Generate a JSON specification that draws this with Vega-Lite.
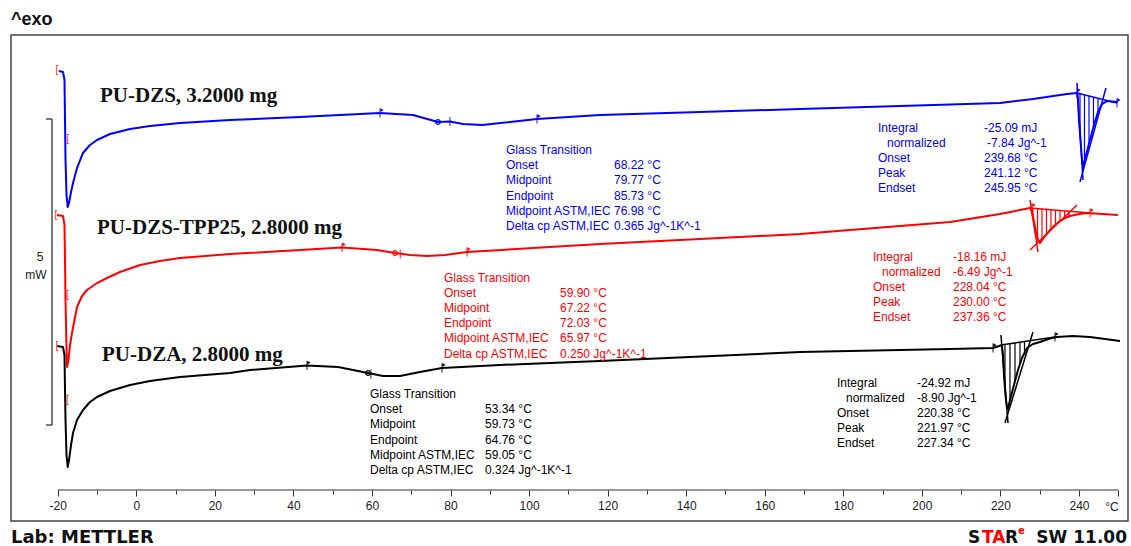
{
"$schema": "https://vega.github.io/schema/vega-lite/v6.json",
"width": 1117, "height": 486,
"autosize": {"type": "none"},
"padding": {"left": 11, "top": 35, "right": 3, "bottom": 25},
"background": "white",
"config": {"view": {"stroke": "#444", "strokeWidth": 1.5}},
"datasets": {
"curves": [
{"s":"PU-DZS","i":0,"T":-19.67,"mW":6.846},{"s":"PU-DZS","i":1,"T":-18.65,"mW":6.830},{"s":"PU-DZS","i":2,"T":-18.27,"mW":6.699},{"s":"PU-DZS","i":3,"T":-18.14,"mW":6.046},{"s":"PU-DZS","i":4,"T":-18.01,"mW":5.392},{"s":"PU-DZS","i":5,"T":-17.76,"mW":4.820},{"s":"PU-DZS","i":6,"T":-17.45,"mW":4.624},{"s":"PU-DZS","i":7,"T":-17.12,"mW":4.690},{"s":"PU-DZS","i":8,"T":-16.61,"mW":4.869},{"s":"PU-DZS","i":9,"T":-16.10,"mW":5.016},{"s":"PU-DZS","i":10,"T":-15.09,"mW":5.261},{"s":"PU-DZS","i":11,"T":-13.56,"mW":5.507},{"s":"PU-DZS","i":12,"T":-11.78,"mW":5.637},{"s":"PU-DZS","i":13,"T":-9.99,"mW":5.719},{"s":"PU-DZS","i":14,"T":-6.69,"mW":5.817},{"s":"PU-DZS","i":15,"T":-1.59,"mW":5.899},{"s":"PU-DZS","i":16,"T":3.50,"mW":5.948},{"s":"PU-DZS","i":17,"T":11.13,"mW":5.997},{"s":"PU-DZS","i":18,"T":23.86,"mW":6.046},{"s":"PU-DZS","i":19,"T":41.68,"mW":6.095},{"s":"PU-DZS","i":20,"T":54.41,"mW":6.136},{"s":"PU-DZS","i":21,"T":62.05,"mW":6.160},{"s":"PU-DZS","i":22,"T":70.45,"mW":6.128},{"s":"PU-DZS","i":23,"T":76.82,"mW":6.013},{"s":"PU-DZS","i":24,"T":79.87,"mW":6.021},{"s":"PU-DZS","i":25,"T":83.18,"mW":5.981},{"s":"PU-DZS","i":26,"T":88.02,"mW":5.964},{"s":"PU-DZS","i":27,"T":95.15,"mW":6.013},{"s":"PU-DZS","i":28,"T":102.02,"mW":6.062},{"s":"PU-DZS","i":29,"T":118.06,"mW":6.128},{"s":"PU-DZS","i":30,"T":143.52,"mW":6.177},{"s":"PU-DZS","i":31,"T":168.98,"mW":6.226},{"s":"PU-DZS","i":32,"T":194.43,"mW":6.275},{"s":"PU-DZS","i":33,"T":219.89,"mW":6.324},{"s":"PU-DZS","i":34,"T":228.29,"mW":6.389},{"s":"PU-DZS","i":35,"T":236.95,"mW":6.471},{"s":"PU-DZS","i":36,"T":239.49,"mW":6.487},{"s":"PU-DZS","i":37,"T":239.75,"mW":6.373},{"s":"PU-DZS","i":38,"T":240.00,"mW":6.046},{"s":"PU-DZS","i":39,"T":240.39,"mW":5.719},{"s":"PU-DZS","i":40,"T":240.77,"mW":5.392},{"s":"PU-DZS","i":41,"T":241.02,"mW":5.278},{"s":"PU-DZS","i":42,"T":241.79,"mW":5.474},{"s":"PU-DZS","i":43,"T":242.80,"mW":5.719},{"s":"PU-DZS","i":44,"T":243.82,"mW":5.964},{"s":"PU-DZS","i":45,"T":244.84,"mW":6.177},{"s":"PU-DZS","i":46,"T":245.86,"mW":6.307},{"s":"PU-DZS","i":47,"T":247.13,"mW":6.356},{"s":"PU-DZS","i":48,"T":248.40,"mW":6.348},{"s":"PU-DZS","i":49,"T":249.93,"mW":6.340},
{"s":"PU-DZS-TPP25","i":0,"T":-20.18,"mW":4.494},{"s":"PU-DZS-TPP25","i":1,"T":-18.65,"mW":4.477},{"s":"PU-DZS-TPP25","i":2,"T":-18.27,"mW":4.330},{"s":"PU-DZS-TPP25","i":3,"T":-18.14,"mW":3.758},{"s":"PU-DZS-TPP25","i":4,"T":-18.01,"mW":3.105},{"s":"PU-DZS-TPP25","i":5,"T":-17.81,"mW":2.451},{"s":"PU-DZS-TPP25","i":6,"T":-17.63,"mW":2.010},{"s":"PU-DZS-TPP25","i":7,"T":-17.25,"mW":2.124},{"s":"PU-DZS-TPP25","i":8,"T":-16.87,"mW":2.369},{"s":"PU-DZS-TPP25","i":9,"T":-16.36,"mW":2.565},{"s":"PU-DZS-TPP25","i":10,"T":-15.09,"mW":2.990},{"s":"PU-DZS-TPP25","i":11,"T":-13.81,"mW":3.170},{"s":"PU-DZS-TPP25","i":12,"T":-12.54,"mW":3.268},{"s":"PU-DZS-TPP25","i":13,"T":-9.99,"mW":3.382},{"s":"PU-DZS-TPP25","i":14,"T":-7.45,"mW":3.464},{"s":"PU-DZS-TPP25","i":15,"T":-4.14,"mW":3.562},{"s":"PU-DZS-TPP25","i":16,"T":0.95,"mW":3.677},{"s":"PU-DZS-TPP25","i":17,"T":6.04,"mW":3.742},{"s":"PU-DZS-TPP25","i":18,"T":11.13,"mW":3.791},{"s":"PU-DZS-TPP25","i":19,"T":23.86,"mW":3.856},{"s":"PU-DZS-TPP25","i":20,"T":41.68,"mW":3.922},{"s":"PU-DZS-TPP25","i":21,"T":52.38,"mW":3.963},{"s":"PU-DZS-TPP25","i":22,"T":61.29,"mW":3.922},{"s":"PU-DZS-TPP25","i":23,"T":65.87,"mW":3.873},{"s":"PU-DZS-TPP25","i":24,"T":69.69,"mW":3.840},{"s":"PU-DZS-TPP25","i":25,"T":74.02,"mW":3.824},{"s":"PU-DZS-TPP25","i":26,"T":78.60,"mW":3.840},{"s":"PU-DZS-TPP25","i":27,"T":84.20,"mW":3.889},{"s":"PU-DZS-TPP25","i":28,"T":105.33,"mW":3.971},{"s":"PU-DZS-TPP25","i":29,"T":118.06,"mW":4.020},{"s":"PU-DZS-TPP25","i":30,"T":143.52,"mW":4.101},{"s":"PU-DZS-TPP25","i":31,"T":168.98,"mW":4.183},{"s":"PU-DZS-TPP25","i":32,"T":194.43,"mW":4.314},{"s":"PU-DZS-TPP25","i":33,"T":207.16,"mW":4.379},{"s":"PU-DZS-TPP25","i":34,"T":219.89,"mW":4.510},{"s":"PU-DZS-TPP25","i":35,"T":227.53,"mW":4.608},{"s":"PU-DZS-TPP25","i":36,"T":228.04,"mW":4.543},{"s":"PU-DZS-TPP25","i":37,"T":228.55,"mW":4.379},{"s":"PU-DZS-TPP25","i":38,"T":229.06,"mW":4.216},{"s":"PU-DZS-TPP25","i":39,"T":229.57,"mW":4.085},{"s":"PU-DZS-TPP25","i":40,"T":230.07,"mW":4.036},{"s":"PU-DZS-TPP25","i":41,"T":231.35,"mW":4.150},{"s":"PU-DZS-TPP25","i":42,"T":232.62,"mW":4.248},{"s":"PU-DZS-TPP25","i":43,"T":233.89,"mW":4.330},{"s":"PU-DZS-TPP25","i":44,"T":235.17,"mW":4.395},{"s":"PU-DZS-TPP25","i":45,"T":236.44,"mW":4.444},{"s":"PU-DZS-TPP25","i":46,"T":237.71,"mW":4.477},{"s":"PU-DZS-TPP25","i":47,"T":239.49,"mW":4.502},{"s":"PU-DZS-TPP25","i":48,"T":241.53,"mW":4.526},{"s":"PU-DZS-TPP25","i":49,"T":244.08,"mW":4.518},{"s":"PU-DZS-TPP25","i":50,"T":249.93,"mW":4.494},
{"s":"PU-DZA","i":0,"T":-20.18,"mW":2.353},{"s":"PU-DZA","i":1,"T":-18.65,"mW":2.337},{"s":"PU-DZA","i":2,"T":-18.27,"mW":2.206},{"s":"PU-DZA","i":3,"T":-18.14,"mW":1.634},{"s":"PU-DZA","i":4,"T":-18.01,"mW":1.144},{"s":"PU-DZA","i":5,"T":-17.76,"mW":0.572},{"s":"PU-DZA","i":6,"T":-17.45,"mW":0.376},{"s":"PU-DZA","i":7,"T":-17.12,"mW":0.490},{"s":"PU-DZA","i":8,"T":-16.61,"mW":0.735},{"s":"PU-DZA","i":9,"T":-16.10,"mW":0.931},{"s":"PU-DZA","i":10,"T":-15.09,"mW":1.144},{"s":"PU-DZA","i":11,"T":-13.56,"mW":1.307},{"s":"PU-DZA","i":12,"T":-11.78,"mW":1.438},{"s":"PU-DZA","i":13,"T":-9.99,"mW":1.520},{"s":"PU-DZA","i":14,"T":-6.69,"mW":1.618},{"s":"PU-DZA","i":15,"T":-1.59,"mW":1.716},{"s":"PU-DZA","i":16,"T":3.50,"mW":1.781},{"s":"PU-DZA","i":17,"T":11.13,"mW":1.846},{"s":"PU-DZA","i":18,"T":23.86,"mW":1.912},{"s":"PU-DZA","i":19,"T":28.96,"mW":1.961},{"s":"PU-DZA","i":20,"T":43.47,"mW":2.034},{"s":"PU-DZA","i":21,"T":51.36,"mW":2.010},{"s":"PU-DZA","i":22,"T":59.00,"mW":1.912},{"s":"PU-DZA","i":23,"T":62.81,"mW":1.863},{"s":"PU-DZA","i":24,"T":67.14,"mW":1.863},{"s":"PU-DZA","i":25,"T":72.23,"mW":1.928},{"s":"PU-DZA","i":26,"T":77.83,"mW":1.994},{"s":"PU-DZA","i":27,"T":92.60,"mW":2.043},{"s":"PU-DZA","i":28,"T":105.33,"mW":2.075},{"s":"PU-DZA","i":29,"T":118.06,"mW":2.108},{"s":"PU-DZA","i":30,"T":140.97,"mW":2.173},{"s":"PU-DZA","i":31,"T":168.98,"mW":2.255},{"s":"PU-DZA","i":32,"T":194.43,"mW":2.288},{"s":"PU-DZA","i":33,"T":207.16,"mW":2.304},{"s":"PU-DZA","i":34,"T":218.11,"mW":2.320},{"s":"PU-DZA","i":35,"T":220.40,"mW":2.369},{"s":"PU-DZA","i":36,"T":220.65,"mW":2.206},{"s":"PU-DZA","i":37,"T":220.91,"mW":1.879},{"s":"PU-DZA","i":38,"T":221.29,"mW":1.552},{"s":"PU-DZA","i":39,"T":221.67,"mW":1.340},{"s":"PU-DZA","i":40,"T":221.93,"mW":1.324},{"s":"PU-DZA","i":41,"T":222.43,"mW":1.471},{"s":"PU-DZA","i":42,"T":223.45,"mW":1.716},{"s":"PU-DZA","i":43,"T":224.47,"mW":1.961},{"s":"PU-DZA","i":44,"T":225.49,"mW":2.157},{"s":"PU-DZA","i":45,"T":226.76,"mW":2.320},{"s":"PU-DZA","i":46,"T":228.29,"mW":2.386},{"s":"PU-DZA","i":47,"T":230.07,"mW":2.418},{"s":"PU-DZA","i":48,"T":232.62,"mW":2.476},{"s":"PU-DZA","i":49,"T":234.40,"mW":2.500},{"s":"PU-DZA","i":50,"T":238.47,"mW":2.516},{"s":"PU-DZA","i":51,"T":242.80,"mW":2.500},{"s":"PU-DZA","i":52,"T":246.62,"mW":2.467},{"s":"PU-DZA","i":53,"T":250.44,"mW":2.435}
],
"segs": [
{"id":"b1","s":"PU-DZS","T":239.49,"mW":6.487},{"id":"b1","s":"PU-DZS","T":249.67,"mW":6.324},
{"id":"b2","s":"PU-DZS","T":239.49,"mW":6.650},{"id":"b2","s":"PU-DZS","T":241.02,"mW":5.065},
{"id":"b3","s":"PU-DZS","T":240.26,"mW":5.033},{"id":"b3","s":"PU-DZS","T":246.87,"mW":6.569},
{"id":"r1","s":"PU-DZS-TPP25","T":227.53,"mW":4.608},{"id":"r1","s":"PU-DZS-TPP25","T":242.80,"mW":4.526},
{"id":"r2","s":"PU-DZS-TPP25","T":227.53,"mW":4.739},{"id":"r2","s":"PU-DZS-TPP25","T":229.57,"mW":3.889},
{"id":"r3","s":"PU-DZS-TPP25","T":227.53,"mW":3.922},{"id":"r3","s":"PU-DZS-TPP25","T":239.49,"mW":4.657},
{"id":"k1","s":"PU-DZA","T":220.14,"mW":2.369},{"id":"k1","s":"PU-DZA","T":233.89,"mW":2.500},
{"id":"k2","s":"PU-DZA","T":220.14,"mW":2.533},{"id":"k2","s":"PU-DZA","T":221.93,"mW":1.095},
{"id":"k3","s":"PU-DZA","T":221.16,"mW":1.095},{"id":"k3","s":"PU-DZA","T":228.29,"mW":2.582}
],
"hatch": [
{"s":"PU-DZS","T":240.26,"top":6.475,"bot":5.833},{"s":"PU-DZS","T":241.40,"top":6.456,"bot":5.376},{"s":"PU-DZS","T":242.55,"top":6.438,"bot":5.654},{"s":"PU-DZS","T":243.69,"top":6.420,"bot":5.931},{"s":"PU-DZS","T":244.84,"top":6.401,"bot":6.177},
{"s":"PU-DZS-TPP25","T":228.29,"top":4.604,"bot":4.461},{"s":"PU-DZS-TPP25","T":229.44,"top":4.598,"bot":4.118},{"s":"PU-DZS-TPP25","T":230.58,"top":4.592,"bot":4.082},{"s":"PU-DZS-TPP25","T":231.73,"top":4.585,"bot":4.180},{"s":"PU-DZS-TPP25","T":232.87,"top":4.579,"bot":4.265},{"s":"PU-DZS-TPP25","T":234.02,"top":4.574,"bot":4.337},{"s":"PU-DZS-TPP25","T":235.17,"top":4.567,"bot":4.395},{"s":"PU-DZS-TPP25","T":236.31,"top":4.561,"bot":4.440},{"s":"PU-DZS-TPP25","T":237.46,"top":4.555,"bot":4.471},
{"s":"PU-DZA","T":221.16,"top":2.379,"bot":1.667},{"s":"PU-DZA","T":222.43,"top":2.391,"bot":1.471},{"s":"PU-DZA","T":223.71,"top":2.404,"bot":1.781},{"s":"PU-DZA","T":224.98,"top":2.415,"bot":2.059},{"s":"PU-DZA","T":226.13,"top":2.427,"bot":2.239}
],
"flags": [
{"s":"PU-DZS","T":62.05,"mW":6.160},{"s":"PU-DZS","T":102.02,"mW":6.062},{"s":"PU-DZS","T":239.49,"mW":6.487},{"s":"PU-DZS","T":249.67,"mW":6.324},
{"s":"PU-DZS-TPP25","T":52.38,"mW":3.963},{"s":"PU-DZS-TPP25","T":84.20,"mW":3.889},{"s":"PU-DZS-TPP25","T":228.04,"mW":4.608},{"s":"PU-DZS-TPP25","T":242.80,"mW":4.526},
{"s":"PU-DZA","T":43.47,"mW":2.034},{"s":"PU-DZA","T":77.83,"mW":1.994},{"s":"PU-DZA","T":218.11,"mW":2.320},{"s":"PU-DZA","T":233.89,"mW":2.500}
],
"crosses": [
{"s":"PU-DZS","T":79.87,"mW":6.021},{"s":"PU-DZS-TPP25","T":67.22,"mW":3.856},{"s":"PU-DZA","T":59.73,"mW":1.895}
],
"circles": [
{"s":"PU-DZS","T":76.82,"mW":6.013},{"s":"PU-DZS-TPP25","T":65.87,"mW":3.873},{"s":"PU-DZA","T":59.00,"mW":1.912}
],
"brackets": [
{"T":-20.18,"mW":6.863},{"T":-20.43,"mW":4.494},{"T":-20.18,"mW":2.353},
{"T":-17.45,"mW":5.735},{"T":-17.51,"mW":3.186},{"T":-17.51,"mW":1.471}
],
"labels": [
{"t":"PU-DZS, 3.2000 mg","T":-9.23,"mW":6.438},
{"t":"PU-DZS-TPP25, 2.8000 mg","T":-9.99,"mW":4.281},
{"t":"PU-DZA, 2.8000 mg","T":-8.72,"mW":2.206}
],
"notes": [
{"s":"PU-DZS","T":94.13,"mW":5.556,"t":"Glass Transition"},
{"s":"PU-DZS","T":94.13,"mW":5.307,"t":"Onset"},{"s":"PU-DZS","T":121.62,"mW":5.307,"t":"68.22 °C"},
{"s":"PU-DZS","T":94.13,"mW":5.059,"t":"Midpoint"},{"s":"PU-DZS","T":121.62,"mW":5.059,"t":"79.77 °C"},
{"s":"PU-DZS","T":94.13,"mW":4.811,"t":"Endpoint"},{"s":"PU-DZS","T":121.62,"mW":4.811,"t":"85.73 °C"},
{"s":"PU-DZS","T":94.13,"mW":4.562,"t":"Midpoint ASTM,IEC"},{"s":"PU-DZS","T":121.62,"mW":4.562,"t":"76.98 °C"},
{"s":"PU-DZS","T":94.13,"mW":4.314,"t":"Delta cp ASTM,IEC"},{"s":"PU-DZS","T":121.62,"mW":4.314,"t":"0.365 Jg^-1K^-1"},
{"s":"PU-DZS","T":188.83,"mW":5.915,"t":"Integral"},{"s":"PU-DZS","T":215.81,"mW":5.915,"t":"-25.09 mJ"},
{"s":"PU-DZS","T":191.12,"mW":5.670,"t":"normalized"},{"s":"PU-DZS","T":216.6,"mW":5.670,"t":"-7.84 Jg^-1"},
{"s":"PU-DZS","T":188.83,"mW":5.425,"t":"Onset"},{"s":"PU-DZS","T":215.81,"mW":5.425,"t":"239.68 °C"},
{"s":"PU-DZS","T":188.83,"mW":5.180,"t":"Peak"},{"s":"PU-DZS","T":215.81,"mW":5.180,"t":"241.12 °C"},
{"s":"PU-DZS","T":188.83,"mW":4.935,"t":"Endset"},{"s":"PU-DZS","T":215.81,"mW":4.935,"t":"245.95 °C"},
{"s":"PU-DZS-TPP25","T":78.34,"mW":3.472,"t":"Glass Transition"},
{"s":"PU-DZS-TPP25","T":78.34,"mW":3.222,"t":"Onset"},{"s":"PU-DZS-TPP25","T":107.87,"mW":3.222,"t":"59.90 °C"},
{"s":"PU-DZS-TPP25","T":78.34,"mW":2.974,"t":"Midpoint"},{"s":"PU-DZS-TPP25","T":107.87,"mW":2.974,"t":"67.22 °C"},
{"s":"PU-DZS-TPP25","T":78.34,"mW":2.726,"t":"Endpoint"},{"s":"PU-DZS-TPP25","T":107.87,"mW":2.726,"t":"72.03 °C"},
{"s":"PU-DZS-TPP25","T":78.34,"mW":2.477,"t":"Midpoint ASTM,IEC"},{"s":"PU-DZS-TPP25","T":107.87,"mW":2.477,"t":"65.97 °C"},
{"s":"PU-DZS-TPP25","T":78.34,"mW":2.229,"t":"Delta cp ASTM,IEC"},{"s":"PU-DZS-TPP25","T":107.87,"mW":2.229,"t":"0.250 Jg^-1K^-1"},
{"s":"PU-DZS-TPP25","T":187.56,"mW":3.807,"t":"Integral"},{"s":"PU-DZS-TPP25","T":207.92,"mW":3.807,"t":"-18.16 mJ"},
{"s":"PU-DZS-TPP25","T":189.85,"mW":3.562,"t":"normalized"},{"s":"PU-DZS-TPP25","T":207.92,"mW":3.562,"t":"-6.49 Jg^-1"},
{"s":"PU-DZS-TPP25","T":187.56,"mW":3.317,"t":"Onset"},{"s":"PU-DZS-TPP25","T":207.92,"mW":3.317,"t":"228.04 °C"},
{"s":"PU-DZS-TPP25","T":187.56,"mW":3.072,"t":"Peak"},{"s":"PU-DZS-TPP25","T":207.92,"mW":3.072,"t":"230.00 °C"},
{"s":"PU-DZS-TPP25","T":187.56,"mW":2.827,"t":"Endset"},{"s":"PU-DZS-TPP25","T":207.92,"mW":2.827,"t":"237.36 °C"},
{"s":"PU-DZA","T":59.50,"mW":1.569,"t":"Glass Transition"},
{"s":"PU-DZA","T":59.50,"mW":1.320,"t":"Onset"},{"s":"PU-DZA","T":88.78,"mW":1.320,"t":"53.34 °C"},
{"s":"PU-DZA","T":59.50,"mW":1.072,"t":"Midpoint"},{"s":"PU-DZA","T":88.78,"mW":1.072,"t":"59.73 °C"},
{"s":"PU-DZA","T":59.50,"mW":0.824,"t":"Endpoint"},{"s":"PU-DZA","T":88.78,"mW":0.824,"t":"64.76 °C"},
{"s":"PU-DZA","T":59.50,"mW":0.575,"t":"Midpoint ASTM,IEC"},{"s":"PU-DZA","T":88.78,"mW":0.575,"t":"59.05 °C"},
{"s":"PU-DZA","T":59.50,"mW":0.327,"t":"Delta cp ASTM,IEC"},{"s":"PU-DZA","T":88.78,"mW":0.327,"t":"0.324 Jg^-1K^-1"},
{"s":"PU-DZA","T":178.39,"mW":1.748,"t":"Integral"},{"s":"PU-DZA","T":198.76,"mW":1.748,"t":"-24.92 mJ"},
{"s":"PU-DZA","T":180.68,"mW":1.503,"t":"normalized"},{"s":"PU-DZA","T":198.76,"mW":1.503,"t":"-8.90 Jg^-1"},
{"s":"PU-DZA","T":178.39,"mW":1.258,"t":"Onset"},{"s":"PU-DZA","T":198.76,"mW":1.258,"t":"220.38 °C"},
{"s":"PU-DZA","T":178.39,"mW":1.013,"t":"Peak"},{"s":"PU-DZA","T":198.76,"mW":1.013,"t":"221.97 °C"},
{"s":"PU-DZA","T":178.39,"mW":0.768,"t":"Endset"},{"s":"PU-DZA","T":198.76,"mW":0.768,"t":"227.34 °C"}
],
"axisline": [{"a":-20,"b":250,"y":0}],
"scalebar": [
{"x":-21.45,"x2":-21.45,"y":1.062,"y2":6.062},
{"x":-22.98,"x2":-21.45,"y":6.062,"y2":6.062},
{"x":-22.98,"x2":-21.45,"y":1.062,"y2":1.062}
],
"smalltext": [
{"t":"5","T":-24.51,"mW":3.807},
{"t":"mW","T":-25.52,"mW":3.513},
{"t":"°C","T":248.40,"mW":-0.278}
],
"blacktext": [
{"t":"S","T":211.74,"mW":-0.784},
{"t":"R","T":221.16,"mW":-0.784}
]
},
"layer": [
{"data":{"name":"curves"},
 "mark":{"type":"line","strokeWidth":2,"strokeJoin":"round"},
 "encoding":{
  "x":{"field":"T","type":"quantitative","scale":{"domain":[-31.89,252.48],"nice":false,"zero":false},
   "axis":{"values":[-20,-10,0,10,20,30,40,50,60,70,80,90,100,110,120,130,140,150,160,170,180,190,200,210,220,230,240,250],
    "labelExpr":"(datum.value % 20 === 0 && datum.value <= 240) ? ('' + datum.value) : ''",
    "tickSize":{"condition":{"test":"datum.value % 20 === 0 || datum.value === 250","value":6},"value":4},
    "domain":false,"grid":false,"offset":-31,"title":null,"labelFont":"Liberation Sans","labelFontSize":12,"labelColor":"#222",
    "tickColor":"#333","tickWidth":1,"labelPadding":4,"labelFlush":false,"labelOverlap":false}},
  "y":{"field":"mW","type":"quantitative","scale":{"domain":[-0.5065,7.435],"nice":false,"zero":false},"axis":null},
  "color":{"field":"s","type":"nominal","scale":{"domain":["PU-DZS","PU-DZS-TPP25","PU-DZA"],"range":["#0000ff","#ff0000","#000000"]},"legend":null},
  "order":{"field":"i"}}},
{"data":{"name":"segs"},
 "mark":{"type":"line","strokeWidth":1.5},
 "encoding":{"x":{"field":"T","type":"quantitative"},"y":{"field":"mW","type":"quantitative","axis":null},
  "color":{"field":"s","type":"nominal","legend":null},"detail":{"field":"id"}}},
{"data":{"name":"hatch"},
 "mark":{"type":"rule","strokeWidth":1.2},
 "encoding":{"x":{"field":"T","type":"quantitative"},"y":{"field":"top","type":"quantitative","axis":null},"y2":{"field":"bot"},
  "color":{"field":"s","type":"nominal","legend":null}}},
{"data":{"name":"flags"},
 "mark":{"type":"tick","orient":"vertical","size":9,"thickness":1.3},
 "encoding":{"x":{"field":"T","type":"quantitative"},"y":{"field":"mW","type":"quantitative","axis":null},
  "color":{"field":"s","type":"nominal","legend":null}}},
{"data":{"name":"flags"},
 "mark":{"type":"point","shape":"triangle-right","filled":true,"size":14,"yOffset":-3,"xOffset":2,"opacity":1},
 "encoding":{"x":{"field":"T","type":"quantitative"},"y":{"field":"mW","type":"quantitative","axis":null},
  "color":{"field":"s","type":"nominal","legend":null}}},
{"data":{"name":"crosses"},
 "mark":{"type":"tick","orient":"vertical","size":9,"thickness":1.2},
 "encoding":{"x":{"field":"T","type":"quantitative"},"y":{"field":"mW","type":"quantitative","axis":null},
  "color":{"field":"s","type":"nominal","legend":null}}},
{"data":{"name":"circles"},
 "mark":{"type":"point","shape":"circle","filled":false,"size":22,"strokeWidth":1.2,"opacity":1},
 "encoding":{"x":{"field":"T","type":"quantitative"},"y":{"field":"mW","type":"quantitative","axis":null},
  "color":{"field":"s","type":"nominal","legend":null}}},
{"data":{"name":"brackets"},
 "mark":{"type":"text","text":"[","color":"#ff2020","fontSize":10,"font":"Liberation Sans","align":"center","baseline":"middle"},
 "encoding":{"x":{"field":"T","type":"quantitative"},"y":{"field":"mW","type":"quantitative","axis":null}}},
{"data":{"name":"labels"},
 "mark":{"type":"text","font":"Liberation Serif","fontWeight":"bold","fontSize":21,"color":"#111","align":"left","baseline":"middle"},
 "encoding":{"x":{"field":"T","type":"quantitative"},"y":{"field":"mW","type":"quantitative","axis":null},"text":{"field":"t"}}},
{"data":{"name":"notes"},
 "mark":{"type":"text","font":"Liberation Sans","fontSize":12,"align":"left","baseline":"middle"},
 "encoding":{"x":{"field":"T","type":"quantitative"},"y":{"field":"mW","type":"quantitative","axis":null},"text":{"field":"t"},
  "color":{"field":"s","type":"nominal","legend":null}}},
{"data":{"name":"axisline"},
 "mark":{"type":"rule","color":"#333","strokeWidth":1.2},
 "encoding":{"x":{"field":"a","type":"quantitative"},"x2":{"field":"b"},"y":{"field":"y","type":"quantitative","axis":null}}},
{"data":{"name":"scalebar"},
 "mark":{"type":"rule","color":"#222","strokeWidth":1.2},
 "encoding":{"x":{"field":"x","type":"quantitative"},"x2":{"field":"x2"},"y":{"field":"y","type":"quantitative","axis":null},"y2":{"field":"y2"}}},
{"data":{"name":"smalltext"},
 "mark":{"type":"text","font":"Liberation Sans","fontSize":12,"color":"#222","align":"center","baseline":"middle"},
 "encoding":{"x":{"field":"T","type":"quantitative"},"y":{"field":"mW","type":"quantitative","axis":null},"text":{"field":"t"}}},
{"data":{"values":[{"t":"^exo","T":-31.89,"mW":7.68}]},
 "mark":{"type":"text","font":"Liberation Sans","fontWeight":"bold","fontSize":18,"color":"#111","align":"left","baseline":"middle"},
 "encoding":{"x":{"field":"T","type":"quantitative"},"y":{"field":"mW","type":"quantitative","axis":null},"text":{"field":"t"}}},
{"data":{"values":[{"t":"Lab: METTLER","T":-31.89,"mW":-0.784}]},
 "mark":{"type":"text","font":"DejaVu Sans","fontWeight":"bold","fontSize":18,"color":"#111","align":"left","baseline":"middle"},
 "encoding":{"x":{"field":"T","type":"quantitative"},"y":{"field":"mW","type":"quantitative","axis":null},"text":{"field":"t"}}},
{"data":{"name":"blacktext"},
 "mark":{"type":"text","font":"DejaVu Sans","fontWeight":"bold","fontSize":17,"color":"#111","align":"left","baseline":"middle"},
 "encoding":{"x":{"field":"T","type":"quantitative"},"y":{"field":"mW","type":"quantitative","axis":null},"text":{"field":"t"}}},
{"data":{"values":[{"t":"TA","T":215.31,"mW":-0.784}]},
 "mark":{"type":"text","font":"DejaVu Sans","fontWeight":"bold","fontSize":17,"color":"#ff0000","align":"left","baseline":"middle"},
 "encoding":{"x":{"field":"T","type":"quantitative"},"y":{"field":"mW","type":"quantitative","axis":null},"text":{"field":"t"}}},
{"data":{"values":[{"t":"SW 11.00","T":252.23,"mW":-0.784}]},
 "mark":{"type":"text","font":"DejaVu Sans","fontWeight":"bold","fontSize":17,"color":"#111","align":"right","baseline":"middle"},
 "encoding":{"x":{"field":"T","type":"quantitative"},"y":{"field":"mW","type":"quantitative","axis":null},"text":{"field":"t"}}},
{"data":{"values":[{"t":"e","T":224.47,"mW":-0.670}]},
 "mark":{"type":"text","font":"DejaVu Sans","fontWeight":"bold","fontSize":10,"color":"#ff0000","align":"left","baseline":"middle"},
 "encoding":{"x":{"field":"T","type":"quantitative"},"y":{"field":"mW","type":"quantitative","axis":null},"text":{"field":"t"}}}
]
}
